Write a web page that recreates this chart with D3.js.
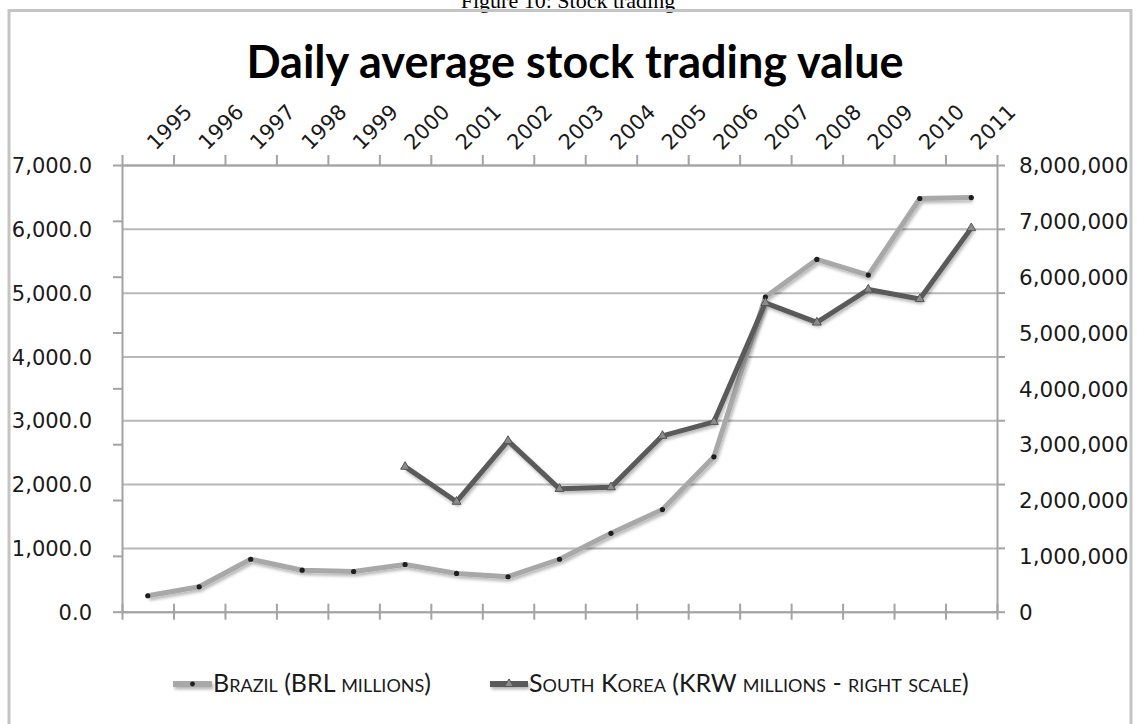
<!DOCTYPE html>
<html>
<head>
<meta charset="utf-8">
<script src="https://cdn.jsdelivr.net/npm/d3@7/dist/d3.min.js"></script>
<style>
  html, body { margin: 0; padding: 0; background: #fff; }
  svg { display: block; }
</style>
</head>
<body>
<svg id="chart" width="1137" height="724"></svg>
<script>
// ---- data ----
const years = ["1995","1996","1997","1998","1999","2000","2001","2002","2003","2004","2005","2006","2007","2008","2009","2010","2011"];
const brazil = [250, 390, 822, 650, 630, 740, 600, 548, 822, 1228, 1600, 2427, 4930, 5520, 5275, 6475, 6490];
const korea = [null, null, null, null, null, 2597000, 1970000, 3060000, 2200000, 2230000, 3150000, 3400000, 5530000, 5180000, 5770000, 5600000, 6870000];
const leftTicks = [0, 1000, 2000, 3000, 4000, 5000, 6000, 7000];
const rightTicks = [0, 1000000, 2000000, 3000000, 4000000, 5000000, 6000000, 7000000, 8000000];
const titleText = "Daily average stock trading value";
const captionText = "Figure 10: Stock trading";
const legendLabels = ["Brazil (BRL millions)", "South Korea (KRW millions - right scale)"];

// ---- layout ----
const L = 122, R = 997, T = 165, B = 611.7;
const svg = d3.select("#chart");

const defs = svg.append("defs");
const f = defs.append("filter").attr("id", "sh").attr("filterUnits", "userSpaceOnUse")
  .attr("x", 0).attr("y", 0).attr("width", 1137).attr("height", 724);
f.append("feDropShadow").attr("dx", 1.5).attr("dy", 2.5).attr("stdDeviation", 1.6).attr("flood-color", "#000").attr("flood-opacity", 0.28);

// caption (clipped at top, as in the source)
svg.append("text").attr("x", 568).attr("y", 8)
  .attr("text-anchor", "middle")
  .style("font-family", "'Liberation Serif', serif").style("font-size", "22px")
  .text(captionText);

// frame
svg.append("rect").attr("x", 9).attr("y", 10.5).attr("width", 1122).attr("height", 800)
  .attr("fill", "none").attr("stroke", "#c4c4c4").attr("stroke-width", 3);

// title
svg.append("text").attr("x", 575).attr("y", 78)
  .attr("text-anchor", "middle")
  .style("font-family", "Lato, sans-serif").style("font-weight", "bold").style("font-size", "45px")
  .attr("fill", "#000")
  .text(titleText);

const x = d3.scaleBand().domain(years).range([L, R]).padding(0);
const xb = d3.scaleLinear().domain([0, years.length]).range([L, R]);
const yL = d3.scaleLinear().domain([0, 7000]).range([B, T]);
const yR = d3.scaleLinear().domain([0, 8000000]).range([B, T]);

const axisColor = "#a3a3a3";
const font = "'DejaVu Sans', sans-serif";

// gridlines
const grid = svg.append("g").attr("transform", `translate(${L},0)`)
  .call(d3.axisLeft(yL).tickValues(leftTicks).tickSize(-(R - L)).tickFormat(""));
grid.select(".domain").remove();
grid.selectAll("line").attr("stroke", "#b8b8b8").attr("stroke-width", 2);

// left axis labels
const la = svg.append("g").attr("transform", `translate(${L},0)`)
  .call(d3.axisLeft(yL).tickValues(leftTicks).tickSize(0).tickPadding(30).tickFormat(d3.format(",.1f")));
la.select(".domain").remove();
la.selectAll("text").style("font-family", font).style("font-size", "21px").attr("fill", "#1a1a1a").attr("dy", "0.36em");

// left axis line + tick marks
const lt = svg.append("g").attr("transform", `translate(${L},0)`)
  .call(d3.axisLeft(yR).tickValues(rightTicks).tickSize(9).tickSizeOuter(0).tickFormat(""));
lt.select(".domain").attr("stroke", axisColor).attr("stroke-width", 2);
lt.selectAll("line").attr("stroke", axisColor).attr("stroke-width", 2);

// right axis labels
const ra = svg.append("g").attr("transform", `translate(${R},0)`)
  .call(d3.axisRight(yR).tickValues(rightTicks).tickSize(0).tickPadding(22).tickFormat(d3.format(",")));
ra.select(".domain").remove();
ra.selectAll("text").style("font-family", font).style("font-size", "21.5px").attr("fill", "#1a1a1a").attr("dy", "0.36em");

// right axis line + tick marks
const rt = svg.append("g").attr("transform", `translate(${R},0)`)
  .call(d3.axisRight(yL).tickValues(leftTicks).tickSize(8).tickSizeOuter(0).tickFormat(""));
rt.select(".domain").attr("stroke", axisColor).attr("stroke-width", 2);
rt.selectAll("line").attr("stroke", axisColor).attr("stroke-width", 2);

// bottom axis (crossing ticks)
const ba = svg.append("g").attr("transform", `translate(0,${B})`)
  .call(d3.axisBottom(xb).tickValues(d3.range(0, years.length + 1)).tickSize(8).tickSizeOuter(0).tickFormat(""));
ba.select(".domain").attr("stroke", axisColor).attr("stroke-width", 2);
ba.selectAll(".tick line").attr("y1", -8).attr("stroke", axisColor).attr("stroke-width", 2);

// top axis
const ta = svg.append("g").attr("transform", `translate(0,${T})`)
  .call(d3.axisTop(xb).tickValues(d3.range(0, years.length + 1)).tickSize(10).tickSizeOuter(0).tickFormat(""));
ta.select(".domain").attr("stroke", axisColor).attr("stroke-width", 2);
ta.selectAll(".tick line").attr("stroke", axisColor).attr("stroke-width", 2);

// rotated year labels
svg.append("g").selectAll("text").data(years).join("text")
  .attr("transform", d => `translate(${x(d) + x.bandwidth() / 2 + 8},${151}) rotate(-45)`)
  .style("font-family", font).style("font-size", "21px").attr("fill", "#1a1a1a")
  .text(d => d);

// lines
const cx = d => x(d) + x.bandwidth() / 2;
const brData = years.map((y, i) => ({ y, v: brazil[i] }));
const koData = years.map((y, i) => ({ y, v: korea[i] })).filter(d => d.v != null);

const brLine = d3.line().x(d => cx(d.y)).y(d => yL(d.v));
const koLine = d3.line().x(d => cx(d.y)).y(d => yR(d.v));

const brColor = "#a8a8a8", koColor = "#5a5a5a";

svg.append("path").datum(brData).attr("d", brLine)
  .attr("fill", "none").attr("stroke", brColor).attr("stroke-width", 5)
  .attr("stroke-linejoin", "round").attr("filter", "url(#sh)");
svg.append("g").selectAll("circle").data(brData).join("circle")
  .attr("cx", d => cx(d.y)).attr("cy", d => yL(d.v)).attr("r", 2.6).attr("fill", "#1e1e1e");

svg.append("path").datum(koData).attr("d", koLine)
  .attr("fill", "none").attr("stroke", koColor).attr("stroke-width", 5)
  .attr("stroke-linejoin", "round").attr("filter", "url(#sh)");
const tri = d3.symbol().type(d3.symbolTriangle).size(34);
svg.append("g").selectAll("path").data(koData).join("path")
  .attr("d", tri).attr("transform", d => `translate(${cx(d.y)},${yR(d.v)})`)
  .attr("fill", "#8c8c8c").attr("stroke", "#555").attr("stroke-width", 1);

// legend
const lg = svg.append("g");
const legendY = 692;
const items = [
  { x0: 173, x1: 212, tx: 213, color: brColor, marker: "dot", label: legendLabels[0] },
  { x0: 490, x1: 528, tx: 529, color: koColor, marker: "tri", label: legendLabels[1] }
];
items.forEach(it => {
  lg.append("line").attr("x1", it.x0).attr("x2", it.x1).attr("y1", legendY - 8).attr("y2", legendY - 8)
    .attr("stroke", it.color).attr("stroke-width", 6).attr("filter", "url(#sh)");
  if (it.marker === "dot") {
    lg.append("circle").attr("cx", (it.x0 + it.x1) / 2).attr("cy", legendY - 8).attr("r", 2.4).attr("fill", "#1e1e1e");
  } else {
    lg.append("path").attr("d", tri).attr("transform", `translate(${(it.x0 + it.x1) / 2},${legendY - 8})`)
      .attr("fill", "#8c8c8c").attr("stroke", "#555").attr("stroke-width", 1);
  }
  lg.append("text").attr("x", it.tx).attr("y", legendY)
    .style("font-family", "Lato, sans-serif").style("font-size", "25px").style("font-variant", "small-caps")
    .attr("fill", "#1a1a1a").text(it.label);
});
</script>
</body>
</html>
